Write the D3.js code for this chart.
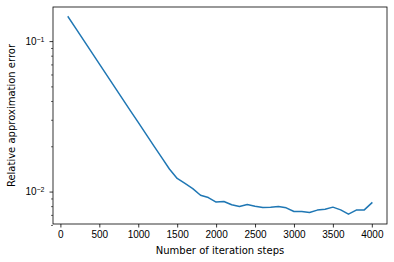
<!DOCTYPE html>
<head>
<meta charset="utf-8">
<style>
body, html {
  margin: 0;
  padding: 0;
  background: #fff;
  font-family: "DejaVu Sans";
}
.tick text {
  font-size: 10px;
  fill: #000;
}
.label {
  font-size: 10px;
}
</style>
<script src="https://cdnjs.cloudflare.com/ajax/libs/d3/7.8.5/d3.min.js"></script>
</head>
<body>
<div id="chart"></div>
<script>

// iteration steps and relative error
var steps = [100, 200, 300, 400, 500, 600, 700, 800, 900, 1000,
             1100, 1200, 1300, 1400, 1500, 1600, 1700, 1800, 1900, 2000,
             2100, 2200, 2300, 2400, 2500, 2600, 2700, 2800, 2900, 3000,
             3100, 3200, 3300, 3400, 3500, 3600, 3700, 3800, 3900, 4000];
var errors = [0.1449, 0.1209, 0.1011, 0.0845, 0.0706, 0.0589, 0.0493, 0.0412, 0.0344, 0.0288,
              0.0241, 0.0201, 0.01686, 0.01413, 0.01222, 0.01132, 0.01047, 0.00946, 0.00912, 0.00851,
              0.00859, 0.00817, 0.00796, 0.00820, 0.00800, 0.00783, 0.00788, 0.00796, 0.00780, 0.00737,
              0.00737, 0.00726, 0.00753, 0.00764, 0.00788, 0.00756, 0.00708, 0.00753, 0.00753, 0.00841];
var xTicks = [0, 500, 1000, 1500, 2000, 2500, 3000, 3500, 4000];
var yMajor = [1, 2]; // 10^-1, 10^-2
var yMinor = [0.006, 0.007, 0.008, 0.009, 0.02, 0.03, 0.04, 0.05, 0.06, 0.07, 0.08, 0.09];

var width = 394, height = 262;
var margin = {top: 7, right: 7, bottom: 38, left: 53};
var w = width - margin.left - margin.right,
    h = height - margin.top - margin.bottom;

// matplotlib style 5% margins
var xe = d3.extent(steps), xpad = (xe[1] - xe[0]) * 0.05;
var le = d3.extent(errors).map(Math.log10), lpad = (le[1] - le[0]) * 0.05;

var x = d3.scaleLinear()
    .domain([xe[0] - xpad, xe[1] + xpad])
    .range([0, w]);
var y = d3.scaleLog()
    .domain([Math.pow(10, le[0] - lpad), Math.pow(10, le[1] + lpad)])
    .range([h, 0]);

var svg = d3.select('#chart').append('svg')
    .attr('width', width)
    .attr('height', height);

var g = svg.append('g')
    .attr('transform', 'translate(' + margin.left + ',' + margin.top + ')');

g.append('path')
    .datum(d3.zip(steps, errors))
    .attr('fill', 'none')
    .attr('stroke', '#1f77b4')
    .attr('stroke-width', 1.5)
    .attr('stroke-linejoin', 'round')
    .attr('stroke-linecap', 'square')
    .attr('d', d3.line()
      .x(function(d) { return x(d[0]); })
      .y(function(d) { return y(d[1]); }));

// x axis
var xAxis = g.append('g')
    .attr('transform', 'translate(0,' + h + ')')
    .call(d3.axisBottom(x).tickValues(xTicks).tickSize(3.5).tickPadding(3.5).tickFormat(d3.format('d')));
xAxis.select('.domain').remove();
xAxis.selectAll('.tick line').attr('stroke-width', 0.8);

// y axis, minor ticks
var yMin = g.append('g')
    .call(d3.axisLeft(y).tickValues(yMinor).tickSize(2).tickFormat(''));
yMin.select('.domain').remove();
yMin.selectAll('.tick line').attr('stroke-width', 0.6);

// y axis, major ticks with superscript labels
var yMaj = g.append('g')
    .call(d3.axisLeft(y).tickValues(yMajor.map(function(p) { return Math.pow(10, -p); }))
      .tickSize(3.5).tickPadding(3.5).tickFormat(''));
yMaj.select('.domain').remove();
yMaj.selectAll('.tick line').attr('stroke-width', 0.8);
yMaj.selectAll('.tick').each(function(d, i) {
  var t = d3.select(this).append('text')
      .attr('x', -8.5)
      .attr('dy', '0.32em')
      .attr('text-anchor', 'end')
      .attr('fill', '#000')
      .style('font-size', '10px');
  t.append('tspan').text('10');
  t.append('tspan').attr('dy', '-0.45em').style('font-size', '7px').text('\u2212' + yMajor[i]);
});

// frame
g.append('rect')
    .attr('width', w)
    .attr('height', h)
    .attr('fill', 'none')
    .attr('stroke', '#000')
    .attr('stroke-width', 0.8);

svg.append('text')
    .attr('class', 'label')
    .attr('x', margin.left + w / 2)
    .attr('y', height - 8)
    .attr('text-anchor', 'middle')
    .text('Number of iteration steps');

svg.append('text')
    .attr('class', 'label')
    .attr('transform', 'translate(15,' + (margin.top + h / 2) + ') rotate(-90)')
    .attr('text-anchor', 'middle')
    .text('Relative approximation error');

</script>
</body>
</html>
